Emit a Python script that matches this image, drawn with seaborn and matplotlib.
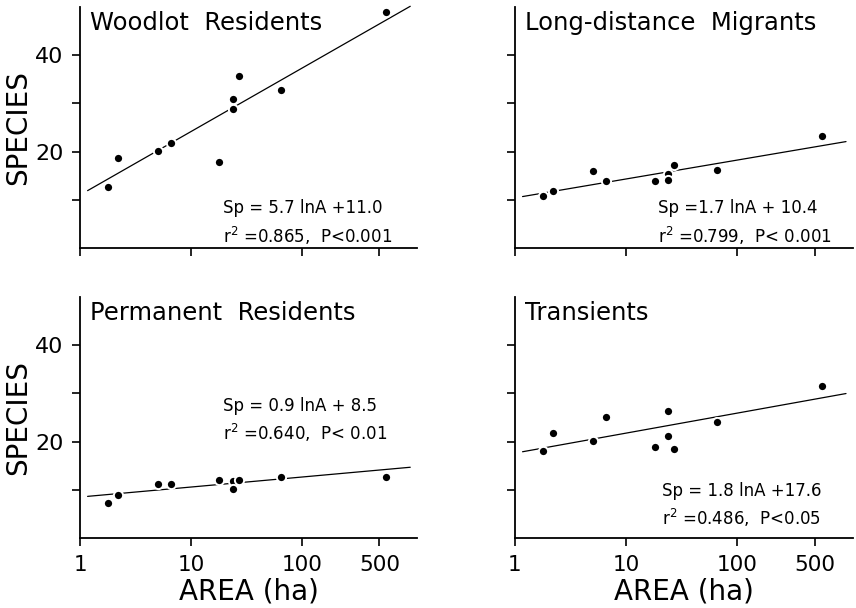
import numpy as np
import pandas as pd
import matplotlib
matplotlib.use("Agg")
import matplotlib.pyplot as plt
import seaborn as sns

# woodlot areas (ha), same ten woodlots in every panel
area = [1.8, 2.2, 5.0, 6.6, 18, 24, 24, 27, 65, 580]

# species counts
woodlot = [12.6, 18.6, 20.1, 21.7, 17.8, 30.9, 28.8, 35.7, 32.7, 48.8]
longdist = [10.7, 11.9, 16.0, 13.9, 13.9, 15.3, 14.1, 17.2, 16.1, 23.3]
permanent = [7.2, 8.9, 11.1, 11.3, 12.1, 11.8, 10.2, 12.0, 12.6, 12.6]
transient = [18.1, 21.8, 20.1, 25.0, 18.9, 26.3, 21.1, 18.4, 24.0, 31.4]

titles = ["Woodlot  Residents", "Long-distance  Migrants",
          "Permanent  Residents", "Transients"]
slopes = [5.7, 1.7, 0.9, 1.8]
intercepts = [11.0, 10.4, 8.5, 17.6]
eq_lines = ["Sp = 5.7 lnA +11.0", "Sp =1.7 lnA + 10.4",
            "Sp = 0.9 lnA + 8.5", "Sp = 1.8 lnA +17.6"]
stat_lines = [r"r$^2$ =0.865,  P<0.001", r"r$^2$ =0.799,  P< 0.001",
              r"r$^2$ =0.640,  P< 0.01", r"r$^2$ =0.486,  P<0.05"]
eq_pos = [(0.424, 0.145, 0.022), (0.422, 0.145, 0.022),
          (0.424, 0.525, 0.407), (0.436, 0.173, 0.055)]

yticks = [10, 20, 30, 40]
ytick_labels = ["", "20", "", "40"]
xticks = [1, 10, 100, 500]
xtick_labels = ["1", "10", "100", "500"]

series = [woodlot, longdist, permanent, transient]

sns.set_style("ticks")
plt.rcParams["font.family"] = ["DejaVu Sans"]
plt.rcParams["text.color"] = "black"
plt.rcParams["axes.labelcolor"] = "black"

fig = plt.figure(figsize=(8.56, 6.08), dpi=100)
boxes = [[0.0935, 0.592, 0.394, 0.397], [0.6016, 0.592, 0.395, 0.397],
         [0.0935, 0.115, 0.394, 0.397], [0.6016, 0.115, 0.395, 0.397]]

for i in range(4):
    ax = fig.add_axes(boxes[i])
    df = pd.DataFrame({"area": area, "sp": series[i]})
    xs = np.geomspace(1.17, 950, 50)
    line = pd.DataFrame({"area": xs, "sp": slopes[i] * np.log(xs) + intercepts[i]})
    sns.lineplot(data=line, x="area", y="sp", color="black", lw=0.9, ax=ax)
    for l in ax.lines:
        l.set_clip_on(False)
    sns.scatterplot(data=df, x="area", y="sp", color="black", s=44,
                    edgecolor="white", linewidth=1.4, ax=ax, zorder=3)
    ax.set_xscale("log")
    ax.set_xlim(1, 1100)
    ax.set_ylim(0, 50)
    ax.set_xticks(xticks)
    ax.minorticks_off()
    ax.set_yticks(yticks)
    if i >= 2:
        ax.set_xticklabels(xtick_labels, fontsize=15.5)
        ax.set_xlabel("AREA (ha)", fontsize=20, labelpad=2)
    else:
        ax.set_xticklabels([])
        ax.set_xlabel("")
    if i % 2 == 0:
        ax.set_yticklabels(ytick_labels, fontsize=16)
        ax.set_ylabel("SPECIES", fontsize=20, labelpad=2)
    else:
        ax.set_yticklabels([])
        ax.set_ylabel("")
    sns.despine(ax=ax)
    for s in ["left", "bottom"]:
        ax.spines[s].set_linewidth(1.3)
        ax.spines[s].set_color("black")
    ax.tick_params(direction="out", length=6, width=1.2, pad=6, colors="black")
    ax.text(0.03, 0.905, titles[i], transform=ax.transAxes, fontsize=17.5,
            va="baseline", ha="left")
    px, py1, py2 = eq_pos[i]
    ax.text(px, py1, eq_lines[i], transform=ax.transAxes, fontsize=12,
            va="baseline", ha="left")
    ax.text(px, py2, stat_lines[i], transform=ax.transAxes, fontsize=12,
            va="baseline", ha="left")

fig.savefig("out.png", dpi=100)
